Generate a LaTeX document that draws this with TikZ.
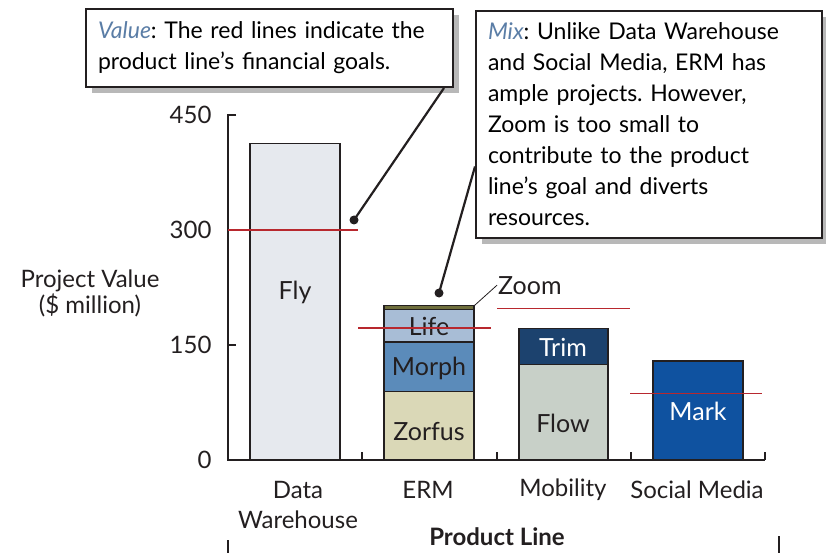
\documentclass[tikz,border=0pt]{standalone}
\usepackage{fontspec}
\setmainfont{Lato}
\usetikzlibrary{shadows,positioning}

\definecolor{inkdark}{HTML}{231F20}
\definecolor{notetitle}{HTML}{5A7DA6}
\definecolor{goalred}{HTML}{B8282E}
\definecolor{flyfill}{HTML}{E6E9EE}
\definecolor{zorfusfill}{HTML}{DAD8B7}
\definecolor{morphfill}{HTML}{5B8BBA}
\definecolor{lifefill}{HTML}{A8BDD6}
\definecolor{zoomfill}{HTML}{6E6E3C}
\definecolor{flowfill}{HTML}{C8D0C8}
\definecolor{trimfill}{HTML}{1C426E}
\definecolor{markfill}{HTML}{0F52A0}

\tikzset{
  notebox/.style={draw=inkdark, line width=2pt, fill=white, anchor=north west,
    align=left, inner xsep=12pt, font=\fontsize{23}{31}\selectfont,
    drop shadow={shadow xshift=6pt, shadow yshift=-6pt, fill=black!28, opacity=1}},
  bar/.style={draw=inkdark, line width=1.2pt},
  goal/.style={goalred, line width=1.3pt},
  axis/.style={inkdark, line width=1.3pt},
  callout/.style={inkdark, line width=2.2pt},
  lbl/.style={font=\fontsize{24}{26}\selectfont, text=inkdark},
  barlbl/.style={font=\fontsize{25}{26}\selectfont, text=inkdark}
}

\begin{document}
\frenchspacing
\begin{tikzpicture}[x=1pt, y=-1pt]
\useasboundingbox (0,0) rectangle (826,553);

% Chart area, values measured upwards from the axis
\begin{scope}[shift={(0,460)}, y=0.7667pt]

% Axes and ticks
\draw[axis] (236,450) -- (228,450) -- (228,0) -- (765,0);
\draw[axis] (228,150) -- (236,150);
\draw[axis] (228,300) -- (236,300);
\draw[axis] (362,0) -- (362,10);
\draw[axis] (497,0) -- (497,10);
\draw[axis] (631,0) -- (631,10);
\draw[axis] (765,0) -- (765,10);

\node[lbl, anchor=east] (tick0) at (215,0) {0};
\node[lbl, anchor=east] (tick150) at (215,150) {150};
\node[lbl, anchor=east] (tick300) at (215,300) {300};
\node[lbl, anchor=east] (tick450) at (215,450) {450};

% Data Warehouse
\draw[bar, fill=flyfill] (250,0) rectangle (340,413);
\node[barlbl] (fly) at (295,218) {Fly};

% ERM stack
\draw[bar, fill=zorfusfill] (384,0) rectangle (474,89);
\draw[bar, fill=morphfill] (384,89) rectangle (474,154);
\draw[bar, fill=lifefill] (384,154) rectangle (474,196);
\draw[bar, fill=zoomfill] (384,196) rectangle (474,201);
\node[barlbl] (zorfus) at (429,37) {Zorfus};
\node[barlbl] (morph) at (429,119) {Morph};
\node[barlbl] (life) at (429,174) {Life};
\coordinate (zoomtop) at (474,201);

% Mobility stack
\draw[bar, fill=flowfill] (519,0) rectangle (608,125);
\draw[bar, fill=trimfill] (519,125) rectangle (608,171);
\node[barlbl] (flow) at (563,48) {Flow};
\node[barlbl, text=white] (trim) at (563,147) {Trim};

% Social Media
\draw[bar, fill=markfill] (653,0) rectangle (743,129);
\node[barlbl, text=white] (mark) at (698,64) {Mark};

% Financial goals
\draw[goal] (228,300) -- (358,300);
\draw[goal] (358,172) -- (491,172);
\draw[goal] (497,198) -- (630,198);
\draw[goal] (630,87) -- (762,87);

% Zoom label
\node[barlbl, anchor=west, inner sep=1pt] (zoomlabel) at (497,228) {Zoom};
\draw[inkdark, line width=0.8pt] (zoomtop) -- (zoomlabel.west);
\end{scope}

% Axis titles
\node[lbl, align=center] (ytitle) at (90,293) {Project Value\\(\$ million)};
\node[lbl, align=center, font=\fontsize{24}{30}\selectfont] (dwcat) at (298,505) {Data\\Warehouse};
\node[lbl] (ermcat) at (428,490) {ERM};
\node[lbl] (mobcat) at (563,490) {Mobility};
\node[lbl] (smcat) at (697,490) {Social Media};
\node[lbl, font=\fontsize{24}{26}\bfseries] (xtitle) at (497,537) {Product Line};

% Callouts
\node[notebox, text width=343pt, minimum height=78pt] (valuenote) at (85,8)
  {\textcolor{notetitle}{\itshape Value}: The red lines indicate the\\product line’s financial goals.};
\node[notebox, text width=322pt, minimum height=227pt] (mixnote) at (475,10)
  {\textcolor{notetitle}{\itshape Mix}: Unlike Data Warehouse\\and Social Media, ERM has\\ample projects. However,\\Zoom is too small to\\contribute to the product\\line’s goal and diverts\\resources.};

\coordinate (valuedot) at (354,220);
\coordinate (mixdot) at (439,293);
\draw[callout] ([xshift=-10pt]valuenote.south east) -- (valuedot);
\draw[callout] ([yshift=-42pt]mixnote.west) -- (mixdot);
\fill[inkdark] (valuedot) circle (4.5pt);
\fill[inkdark] (mixdot) circle (4.5pt);

% Marks at the bottom edge
\draw[axis] (228,540) -- (228,553);
\draw[axis] (779,536) -- (779,553);

\end{tikzpicture}
\end{document}
